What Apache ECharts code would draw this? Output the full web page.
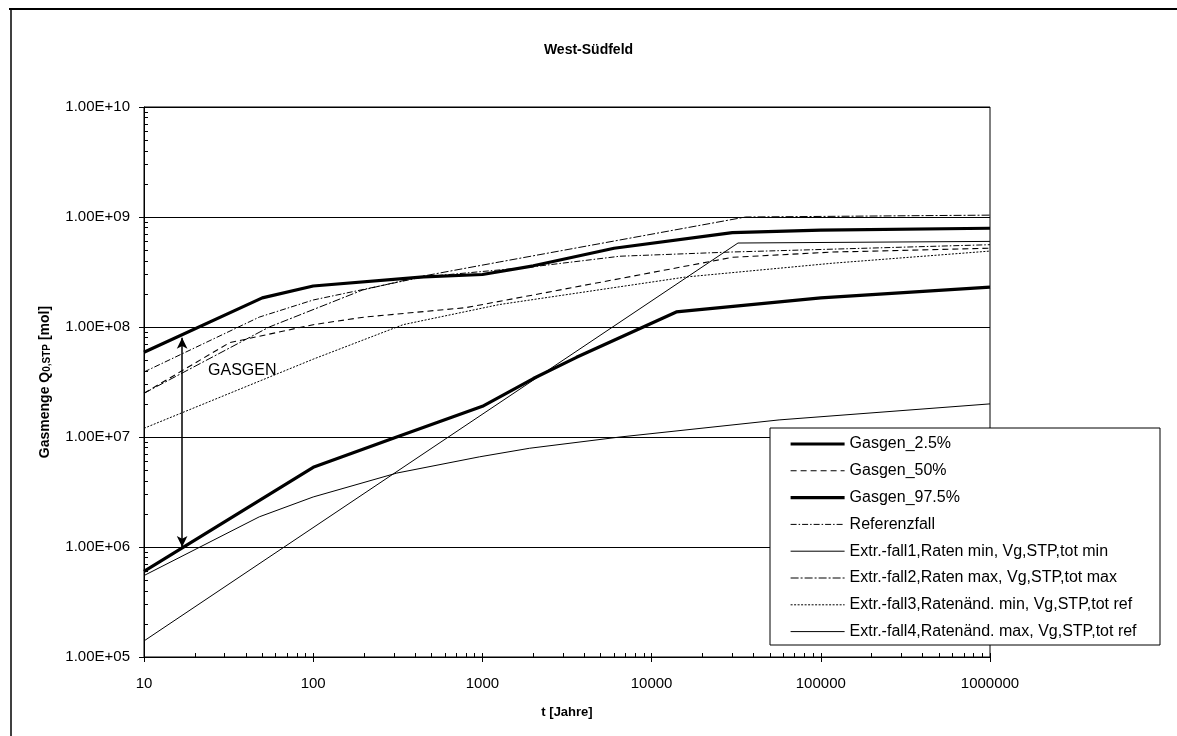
<!DOCTYPE html>
<html>
<head>
<meta charset="utf-8">
<title>West-Südfeld</title>
<script src="https://cdn.jsdelivr.net/npm/echarts@6/dist/echarts.min.js"></script>
<style>
  html, body { margin: 0; padding: 0; background: #fff; }
  #chart { width: 1177px; height: 736px; }
</style>
</head>
<body>
<div id="chart"></div>
<script>
// Axis tick labels (decades)
const xTickLabels = ['10', '100', '1000', '10000', '100000', '1000000'];
const yTickLabels = ['1.00E+05', '1.00E+06', '1.00E+07', '1.00E+08', '1.00E+09', '1.00E+10'];

// Series names as listed in the legend
const seriesNames = [
  'Gasgen_2.5%',
  'Gasgen_50%',
  'Gasgen_97.5%',
  'Referenzfall',
  'Extr.-fall1,Raten min, Vg,STP,tot min',
  'Extr.-fall2,Raten max, Vg,STP,tot max',
  'Extr.-fall3,Ratenänd. min, Vg,STP,tot ref',
  'Extr.-fall4,Ratenänd. max, Vg,STP,tot ref'
];

// Gas amount Q [mol] versus time t [years]: [t, Q]
const gasgen25 = [[10, 6.0e5], [100, 5.3e6], [300, 9.8e6], [1000, 1.9e7], [2000, 3.4e7],
  [3600, 5.3e7], [14000, 1.37e8], [100000, 1.84e8], [1000000, 2.3e8]];
const gasgen50 = [[10, 2.5e7], [32, 7.2e7], [100, 1.05e8], [200, 1.23e8], [800, 1.5e8],
  [3000, 2.2e8], [30000, 4.3e8], [117000, 4.8e8], [1000000, 5.2e8]];
const gasgen975 = [[10, 5.9e7], [50, 1.84e8], [100, 2.36e8], [450, 2.85e8], [1000, 3.0e8],
  [2000, 3.6e8], [6000, 5.2e8], [30000, 7.2e8], [100000, 7.6e8], [1000000, 7.9e8]];
const referenzfall = [[10, 3.9e7], [48, 1.23e8], [100, 1.76e8], [444, 2.85e8], [1900, 3.5e8],
  [6500, 4.4e8], [29000, 4.8e8], [1000000, 5.6e8]];
const extrFall1 = [[10, 5.5e5], [48, 1.88e6], [100, 2.85e6], [312, 4.7e6], [960, 6.6e6],
  [1900, 7.9e6], [6500, 1.0e7], [56700, 1.43e7], [1000000, 2.0e7]];
const extrFall2 = [[10, 2.5e7], [55, 1.0e8], [196, 2.17e8], [444, 2.9e8], [1260, 3.9e8],
  [36000, 1.0e9], [1000000, 1.04e9]];
const extrFall3 = [[10, 1.2e7], [100, 5.1e7], [340, 1.05e8], [1260, 1.6e8], [16000, 2.85e8],
  [117000, 3.8e8], [1000000, 4.9e8]];
const extrFall4 = [[10, 1.4e5], [32400, 5.8e8], [1000000, 6.0e8]];

// GASGEN range marker: arrow between the 2.5% and 97.5% curves
const gasgenArrow = { t: 16.8, qLow: 1.0e6, qHigh: 8.0e7 };
const gasgenLabel = { t: 23.9, q: 4.0e7, text: 'GASGEN' };

const FONT = 'Liberation Sans, Arial, Helvetica, sans-serif';

// Minor tick positions (log10) for the helper axes: 1..9 per decade
function minorLogTicks(fromExp, toExp) {
  const out = [];
  for (let e = fromExp; e < toExp; e++) {
    for (let m = 1; m <= 9; m++) out.push(e + Math.log10(m));
  }
  out.push(toExp);
  return out;
}
const minorX = minorLogTicks(1, 6);
const minorY = minorLogTicks(5, 10);

function lineSeries(name, data, width, type) {
  return {
    name: name,
    type: 'line',
    data: data,
    symbol: 'none',
    showSymbol: false,
    smooth: false,
    silent: true,
    lineStyle: { color: '#000', width: width, type: type },
    itemStyle: { color: '#000' },
    z: 2
  };
}

const s25 = lineSeries(seriesNames[0], gasgen25, 3.2, 'solid');
s25.markLine = {
  silent: true,
  symbol: ['arrow', 'arrow'],
  symbolSize: [8, 11],
  label: { show: false },
  lineStyle: { color: '#000', width: 1.5, type: 'solid' },
  data: [[
    { coord: [gasgenArrow.t, gasgenArrow.qLow] },
    { coord: [gasgenArrow.t, gasgenArrow.qHigh] }
  ]]
};
s25.markPoint = {
  silent: true,
  symbol: 'circle',
  symbolSize: 0,
  label: {
    show: true, position: 'right', distance: 0,
    formatter: gasgenLabel.text,
    color: '#000', fontSize: 16, fontFamily: FONT
  },
  data: [{ coord: [gasgenLabel.t, gasgenLabel.q] }]
};

const series = [
  s25,
  lineSeries(seriesNames[1], gasgen50, 1.1, [6, 4]),
  lineSeries(seriesNames[2], gasgen975, 3.2, 'solid'),
  lineSeries(seriesNames[3], referenzfall, 1, [6, 2, 1.5, 2]),
  lineSeries(seriesNames[4], extrFall1, 1, 'solid'),
  lineSeries(seriesNames[5], extrFall2, 1, [8, 2, 2, 2]),
  lineSeries(seriesNames[6], extrFall3, 1, [2, 1.5]),
  lineSeries(seriesNames[7], extrFall4, 1, 'solid')
];

const axisColor = '#000';

const option = {
  animation: false,
  backgroundColor: '#fff',
  title: {
    text: 'West-Südfeld',
    left: 'center',
    top: 38,
    textStyle: { fontSize: 14, fontWeight: 'bold', color: '#000', fontFamily: FONT }
  },
  grid: {
    left: 144, right: 187, top: 107, bottom: 79,
    show: true, borderColor: '#000', borderWidth: 1, backgroundColor: 'transparent'
  },
  xAxis: [
    {
      type: 'log', logBase: 10, min: 10, max: 1000000, splitNumber: 5,
      position: 'bottom',
      name: 't [Jahre]', nameLocation: 'middle', nameGap: 49,
      nameTextStyle: { fontSize: 13, fontWeight: 'bold', color: '#000', fontFamily: FONT },
      axisLine: { show: true, lineStyle: { color: axisColor, width: 1 } },
      axisTick: { show: true, inside: false, length: 5, lineStyle: { color: axisColor } },
      axisLabel: {
        margin: 19, fontSize: 15, color: '#000', fontFamily: FONT,
        formatter: v => xTickLabels[Math.round(Math.log10(v)) - 1]
      },
      splitLine: { show: false }
    },
    {
      // helper axis (log10 t) carrying the minor ticks
      type: 'value', min: 1, max: 6, position: 'bottom',
      axisLine: { show: false },
      axisLabel: { show: false },
      splitLine: { show: false },
      axisTick: { show: true, inside: true, length: 4, customValues: minorX, lineStyle: { color: axisColor } }
    }
  ],
  yAxis: [
    {
      type: 'log', logBase: 10, min: 1e5, max: 1e10, splitNumber: 5,
      position: 'left',
      name: '{a|Gasmenge Q}{b|0,STP}{a| [mol]}',
      nameLocation: 'middle', nameGap: 92, nameRotate: 90,
      nameTextStyle: {
        color: '#000', fontFamily: FONT,
        rich: {
          a: { fontSize: 14, fontWeight: 'bold', color: '#000', fontFamily: FONT, lineHeight: 16, verticalAlign: 'bottom' },
          b: { fontSize: 10, fontWeight: 'bold', color: '#000', fontFamily: FONT, lineHeight: 10, verticalAlign: 'bottom' }
        }
      },
      axisLine: { show: true, lineStyle: { color: axisColor, width: 1 } },
      axisTick: { show: true, inside: false, length: 5, lineStyle: { color: axisColor } },
      axisLabel: {
        margin: 14, fontSize: 15, color: '#000', fontFamily: FONT,
        formatter: v => yTickLabels[Math.round(Math.log10(v)) - 5]
      },
      splitLine: { show: true, lineStyle: { color: '#000', width: 1 } }
    },
    {
      // helper axis (log10 Q) carrying the minor ticks
      type: 'value', min: 5, max: 10, position: 'left',
      axisLine: { show: false },
      axisLabel: { show: false },
      splitLine: { show: false },
      axisTick: { show: true, inside: true, length: 4, customValues: minorY, lineStyle: { color: axisColor } }
    }
  ],
  legend: {
    data: seriesNames,
    orient: 'vertical',
    left: 789, top: 435,
    padding: 0,
    itemWidth: 54, itemHeight: 18, itemGap: 8.8,
    selectedMode: false,
    z: 6,
    itemStyle: { opacity: 0 },
    lineStyle: { width: 'inherit' },
    textStyle: { fontSize: 16, color: '#000', fontFamily: FONT, lineHeight: 18 }
  },
  graphic: [
    {
      type: 'rect', z: 5,
      shape: { x: 770, y: 428, width: 390, height: 217 },
      style: { fill: '#fff', stroke: '#000', lineWidth: 1 }
    },
    {
      type: 'line', z: 5,
      shape: { x1: 9, y1: 9, x2: 1177, y2: 9 },
      style: { stroke: '#000', lineWidth: 2 }
    },
    {
      type: 'line', z: 5,
      shape: { x1: 11, y1: 9, x2: 11, y2: 736 },
      style: { stroke: '#000', lineWidth: 1.5 }
    }
  ],
  series: series
};

const chart = echarts.init(document.getElementById('chart'), null, { renderer: 'canvas' });
chart.setOption(option);
</script>
</body>
</html>
